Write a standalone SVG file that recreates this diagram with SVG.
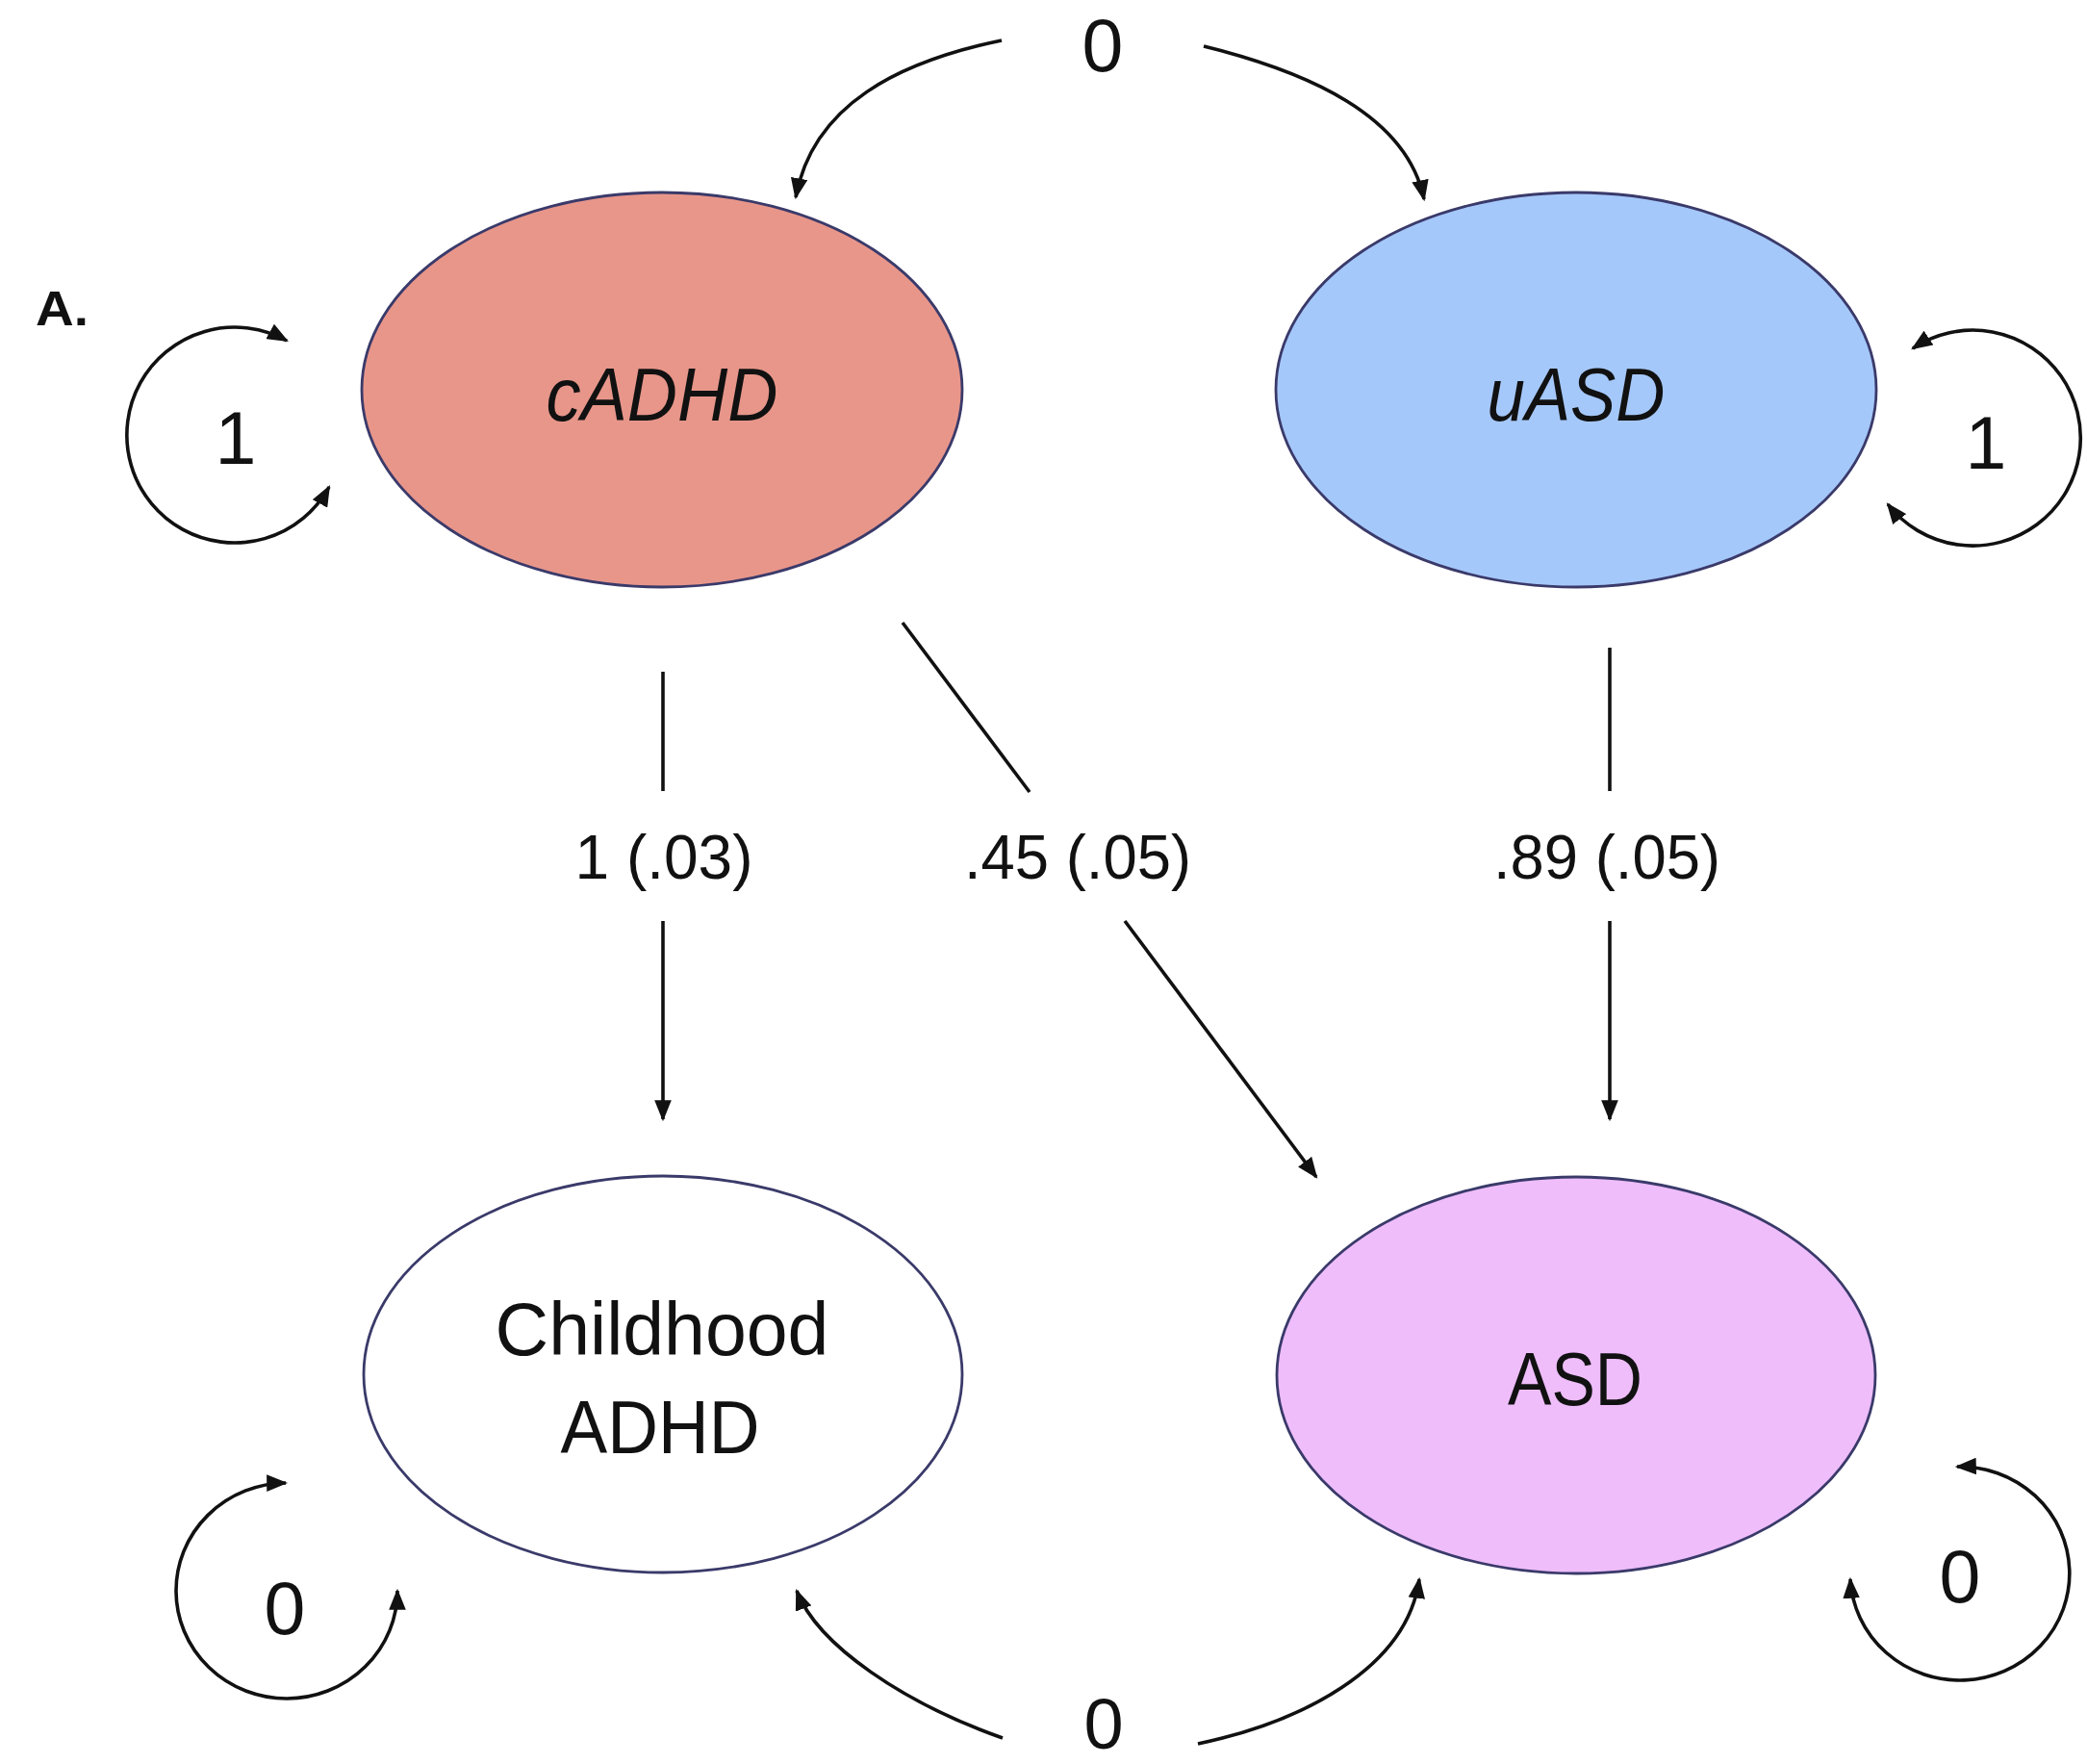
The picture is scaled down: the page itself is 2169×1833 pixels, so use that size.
<svg xmlns="http://www.w3.org/2000/svg" width="2169" height="1833" viewBox="0 0 2169 1833">
<style>
.node{stroke:#3a3a6a;stroke-width:2.8}
.lbl{font-family:"Liberation Sans",Arial,sans-serif;font-size:77px;fill:#111;text-anchor:middle}
.it{font-style:italic}
.elbl{font-family:"Liberation Sans",Arial,sans-serif;font-size:64px;fill:#111;text-anchor:middle}
.con{fill:none;stroke:#111;stroke-width:3.6}
</style>
<defs>
<marker id="ah" viewBox="0 0 10 8" refX="9" refY="4" markerWidth="22" markerHeight="17.6" orient="auto-start-reverse" markerUnits="userSpaceOnUse">
<path d="M0,0 L10,4 L0,8 z" fill="#111"/>
</marker>
</defs>
<rect width="2169" height="1833" fill="#ffffff"/>
<text x="37" y="338" font-family="'Liberation Sans',Arial,sans-serif" font-weight="bold" font-size="50" fill="#111" textLength="55" lengthAdjust="spacingAndGlyphs">A.</text>

<g id="connectors">
<path class="con" d="M689 698 L689 822"/>
<path class="con" d="M689 957 L689 1163" marker-end="url(#ah)"/>
<path class="con" d="M1673 673 L1673 822"/>
<path class="con" d="M1673 957 L1673 1163" marker-end="url(#ah)"/>
<path class="con" d="M938 647 L1070 823"/>
<path class="con" d="M1169 957 L1368 1223" marker-end="url(#ah)"/>
<path class="con" d="M1041 42 C935 64, 845 108, 827 205" marker-end="url(#ah)"/>
<path class="con" d="M1251 48 C1360 75, 1462 120, 1480 207" marker-end="url(#ah)"/>
<path class="con" d="M1042 1806 C940 1770, 850 1710, 828 1653" marker-end="url(#ah)"/>
<path class="con" d="M1245 1812 C1350 1790, 1462 1735, 1475 1641" marker-end="url(#ah)"/>
<path class="con" d="M342 506 A112 112 0 1 1 298 354" marker-start="url(#ah)" marker-end="url(#ah)"/>
<path class="con" d="M1962 524 A112 112 0 1 0 1988 362" marker-start="url(#ah)" marker-end="url(#ah)"/>
<path class="con" d="M413 1653 A115 112 0 1 1 297 1541" marker-start="url(#ah)" marker-end="url(#ah)"/>
<path class="con" d="M1923 1641 A114 111 0 1 0 2034 1524" marker-start="url(#ah)" marker-end="url(#ah)"/>
<text class="elbl" x="690" y="913">1 (.03)</text>
<text class="elbl" x="1120" y="913" textLength="236" lengthAdjust="spacingAndGlyphs">.45 (.05)</text>
<text class="elbl" x="1670" y="913" textLength="236" lengthAdjust="spacingAndGlyphs">.89 (.05)</text>
<text class="lbl" x="1146" y="74">0</text>
<text class="lbl" x="1147" y="1817" style="font-size:74px">0</text>
<text class="lbl" x="245" y="482">1</text>
<text class="lbl" x="2064" y="487">1</text>
<text class="lbl" x="296" y="1698">0</text>
<text class="lbl" x="2037" y="1665">0</text>
</g>

<g id="cADHD">
<ellipse class="node" cx="688" cy="405" rx="312" ry="205" fill="#e8968a"/>
<text class="lbl it" x="688" y="437" textLength="241" lengthAdjust="spacingAndGlyphs">cADHD</text>
</g>
<g id="uASD">
<ellipse class="node" cx="1638" cy="405" rx="312" ry="205" fill="#a5c8fa"/>
<text class="lbl it" x="1638" y="437" textLength="185" lengthAdjust="spacingAndGlyphs">uASD</text>
</g>
<g id="childhood-adhd">
<ellipse class="node" cx="689" cy="1428" rx="311" ry="206" fill="#ffffff"/>
<text class="lbl" x="688" y="1408">Childhood</text>
<text class="lbl" x="686" y="1510" textLength="207" lengthAdjust="spacingAndGlyphs">ADHD</text>
</g>
<g id="ASD">
<ellipse class="node" cx="1638" cy="1429" rx="311" ry="206" fill="#eebdfa"/>
<text class="lbl" x="1637" y="1460" textLength="140" lengthAdjust="spacingAndGlyphs">ASD</text>
</g>
</svg>
